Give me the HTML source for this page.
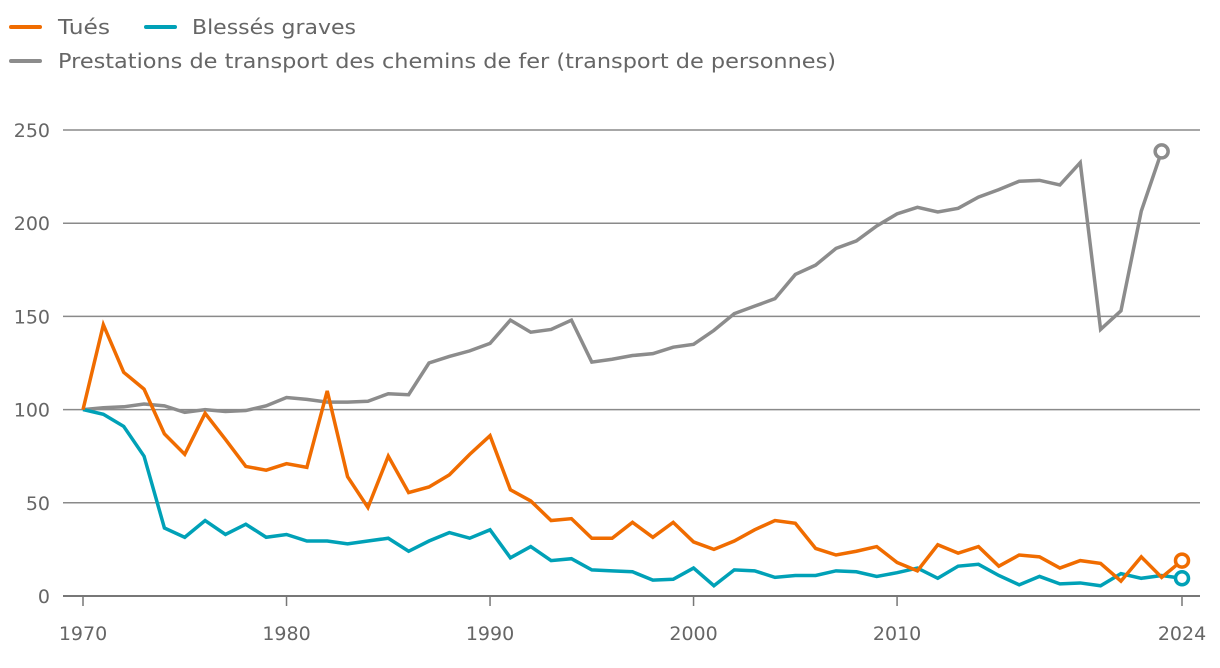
<!DOCTYPE html>
<html><head><meta charset="utf-8"><style>
body{margin:0;background:#fff;width:1220px;height:664px;overflow:hidden;font-family:"DejaVu Sans","Liberation Sans",sans-serif}
svg text{font-family:"DejaVu Sans","Liberation Sans",sans-serif;fill:#666}
</style></head><body>
<svg id="chart" width="1220" height="664" xmlns="http://www.w3.org/2000/svg">
<g>
<g><line x1="11" y1="27" x2="40" y2="27" stroke="#f06c00" stroke-width="4" stroke-linecap="round"/><text x="58" y="34" font-size="20" textLength="52" lengthAdjust="spacingAndGlyphs">Tués</text></g>
<g><line x1="146" y1="27" x2="175" y2="27" stroke="#00a1b7" stroke-width="4" stroke-linecap="round"/><text x="192" y="34" font-size="20" textLength="164" lengthAdjust="spacingAndGlyphs">Blessés graves</text></g>
<g><line x1="11" y1="61" x2="40" y2="61" stroke="#8c8c8c" stroke-width="4" stroke-linecap="round"/><text x="58" y="68" font-size="20" textLength="778" lengthAdjust="spacingAndGlyphs">Prestations de transport des chemins de fer (transport de personnes)</text></g>
</g>
<g id="grid"></g>
<g id="series"></g>
</svg>
<script>
const years=[];for(let y=1970;y<=2024;y++)years.push(y);
const yTicks=[0,50,100,150,200,250];
const xTicks=[1970,1980,1990,2000,2010,2024];
const tues=[100,145.5,120,111,87,76,98,84,69.5,67.5,71,69,110,64,47.5,75,55.5,58.5,65,76,86,57,51,40.5,41.5,31,31,39.5,31.5,39.5,29,25,29.5,35.5,40.5,39,25.5,22,24,26.5,18,13.5,27.5,23,26.5,16,22,21,15,19,17.5,8,21,10,19];
const blesses=[100,97.5,91,75,36.5,31.5,40.5,33,38.5,31.5,33,29.5,29.5,28,29.5,31,24,29.5,34,31,35.5,20.5,26.5,19,20,14,13.5,13,8.5,9,15,5.5,14,13.5,10,11,11,13.5,13,10.5,12.5,15,9.5,16,17,11,6,10.5,6.5,7,5.5,12,9.5,11,9.5];
const prestations=[100,101,101.5,103,102,98.5,100,99,99.5,102,106.5,105.5,104,104,104.5,108.5,108,125,128.5,131.5,135.5,148,141.5,143,148,125.5,127,129,130,133.5,135,142.5,151.5,155.5,159.5,172.5,177.5,186.5,190.5,198.5,205,208.5,206,208,214,218,222.5,223,220.5,232.5,143,153,206.5,238.5];
const NS='http://www.w3.org/2000/svg';
const X=y=>83+(y-1970)*(1099/54);
const Y=v=>596-v*(466/250);
const grid=document.getElementById('grid'),ser=document.getElementById('series');
function mk(tag,attrs,parent){const e=document.createElementNS(NS,tag);for(const k in attrs)e.setAttribute(k,attrs[k]);parent.appendChild(e);return e;}
yTicks.forEach(t=>{
  const l=mk('line',{x1:63,x2:1200,y1:Y(t),y2:Y(t),stroke:t===0?'#777':'#8a8a8a','stroke-width':t===0?2:1.5},grid);
  
  
  const tx=mk('text',{x:50,y:Y(t)+7,'text-anchor':'end','font-size':19},grid);tx.textContent=t;
  
  
});
xTicks.forEach(t=>{
  const l=mk('line',{x1:X(t),x2:X(t),y1:596,y2:606,stroke:'#777','stroke-width':1.5},grid);
  
  
  const tx=mk('text',{x:X(t),y:640,'text-anchor':'middle','font-size':19},grid);tx.textContent=t;
  
  
});
function line(vals,color,name){
  const pts=vals.map((v,i)=>X(years[i])+','+Y(v)).join(' ');
  const p=mk('polyline',{points:pts,fill:'none',stroke:color,'stroke-width':3.5,'stroke-linejoin':'miter'},ser);
  
  
  const i=vals.length-1;
  const c=mk('circle',{cx:X(years[i]),cy:Y(vals[i]),r:6.5,fill:'#fff',stroke:color,'stroke-width':3.5},ser);
  
  
}
line(prestations,'#8c8c8c','prestations');
line(blesses,'#00a1b7','blesses-graves');
line(tues,'#f06c00','tues');
</script>
</body></html>
